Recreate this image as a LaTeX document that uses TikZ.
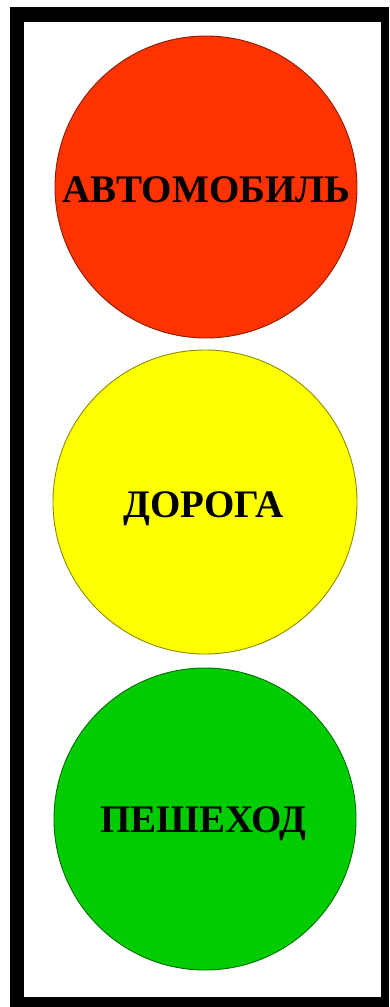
\documentclass[tikz,border=0pt]{standalone}
\usepackage{fontspec}
\setmainfont{Liberation Serif}
\definecolor{lampred}{HTML}{FF3300}
\definecolor{lampyellow}{HTML}{FFFF00}
\definecolor{lampgreen}{HTML}{00CC00}
\tikzset{
  lamp/.style={circle, minimum size=#1, inner sep=0pt, line width=0.9pt},
  lamptext/.style={anchor=base, inner sep=0pt, font=\fontsize{39}{41}\selectfont\bfseries, text=black},
}
\begin{document}
\begin{tikzpicture}[x=1pt,y=-1pt]
\useasboundingbox (0,0) rectangle (389,1007);
\fill[white] (0,0) rectangle (389,1007);
% frame
\fill[black] (10,7) rectangle (389,1007);
\fill[white] (23.5,22) rectangle (381,996.5);
% lamps
\node[lamp=302pt, fill=lampred, draw=lampred!55!black] (red) at (206,187) {};
\node[lamp=304pt, fill=lampyellow, draw=lampyellow!55!black] (yellow) at (205,502) {};
\node[lamp=302pt, fill=lampgreen, draw=lampgreen!55!black] (green) at (205,819) {};
% labels
\node[lamptext] (t1) at (206.5,202) {АВТОМОБИЛЬ};
\node[lamptext] (t2) at (203.5,517) {ДОРОГА};
\node[lamptext] (t3) at (203.5,832) {ПЕШЕХОД};
\end{tikzpicture}
\end{document}
